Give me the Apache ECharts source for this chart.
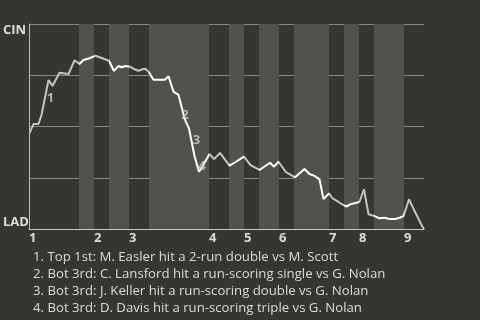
<!DOCTYPE html>
<html><head><meta charset="utf-8">
<script src="https://cdn.jsdelivr.net/npm/echarts@6/dist/echarts.min.js"></script>
<style>html,body{margin:0;padding:0;background:#363531;}#c{width:480px;height:320px;}</style>
</head><body><div id="c"></div>
<script>
// Game progress (approx. plate appearances) and CIN win probability (%)
const progressX = [0,0.9,1.9,2.5,3.9,4.7,6.1,7.9,9.1,10.1,10.9,12.1,13.3,15.2,16,17,17.9,18.5,19.3,20.2,21.1,21.9,22.7,23.3,23.9,24.9,27.2,27.9,28.9,29.9,31.2,32,33.1,34,34.4,36.1,37,38.2,40.1,41.4,43,44.3,46.1,48.2,49,49.9,51.4,52.1,53.2,55.1,56.1,57.1,58.1,58.9,60,60.7,61.5,62.5,63.5,64.2,65.5,66.1,67,67.9,68.9,70.1,71.1,72.1,73.2,74.1,74.9,76,77,77.7,78.5,79];
const cinWinPct = [46.3,51.2,51.2,55.6,72.7,69.8,76.2,75.6,82.3,80.5,82.4,83.3,84.5,82.8,82.1,77.1,79.5,78.9,79.5,79.2,77.9,77.2,77.9,78.2,76.7,72.8,72.8,74.5,67,65.4,53.2,49.1,35.6,28,29.3,36.6,34.1,37.1,30.9,32.8,35.3,31.2,28.8,32.3,30.4,32.8,27.7,26.8,25.2,29.3,26.8,25.9,24.2,14.6,17.4,15,13.8,12.2,10.9,12,12.8,13.3,19.4,7.2,6.5,5.2,5.5,4.9,4.9,5.5,6.3,14.5,9.3,6,2,0];
const inningStarts = [0,13,20,36,43,50,60,66,75];
const inningLabels = ['1','2','3','4','5','6','7','8','9'];
const bottomHalfStarts = [10,16,24,40,46,53,63,69];
const gameEnd = 79;
const teamBottom = 'LAD';
const teamTop = 'CIN';
const annotationIdx = [4,30,32,33];
const annotationNums = ['1','2','3','4'];
const annotationTexts = [
  '1. Top 1st: M. Easler hit a 2-run double vs M. Scott',
  '2. Bot 3rd: C. Lansford hit a run-scoring single vs G. Nolan',
  '3. Bot 3rd: J. Keller hit a run-scoring double vs G. Nolan',
  '4. Bot 3rd: D. Davis hit a run-scoring triple vs G. Nolan'
];

const annOffsets = [[2,18],[0,-5],[2,-16],[3,-5]];
const allStarts = inningStarts.concat([gameEnd]);
const bands = bottomHalfStarts.map((s,i)=>[{xAxis:s},{xAxis:allStarts[i+1]}]);
const pieces = [];
for (let i=0;i<inningStarts.length;i++){
  const top0 = inningStarts[i];
  const bot0 = i<bottomHalfStarts.length ? bottomHalfStarts[i] : gameEnd+1;
  const end = i+1<inningStarts.length ? inningStarts[i+1] : gameEnd+1;
  pieces.push({gte:top0, lt:bot0, color:'#c4c4c2'});
  if (bot0<end) pieces.push({gte:bot0, lt:end, color:'#ffffff'});
}
const lineData = progressX.map((x,i)=>[x,cinWinPct[i]]);
const annData = annotationIdx.map((k,i)=>({
  value:[progressX[k],cinWinPct[k]],
  label:{formatter:annotationNums[i], offset:annOffsets[i]}
}));

const chart = echarts.init(document.getElementById('c'), null, {renderer:'canvas'});
chart.setOption({
  backgroundColor:'#363531',
  animation:false,
  title:{
    text:annotationTexts.join('\n'), left:28, top:244,
    textStyle:{color:'#dcdcda', fontSize:13.2, fontWeight:'normal', fontFamily:'Open Sans', lineHeight:17}
  },
  grid:{left:29, right:56, top:24, bottom:91},
  xAxis:{
    type:'value', min:0, max:gameEnd,
    splitLine:{show:false},
    axisLine:{show:true, lineStyle:{color:'#c8c8c6', width:1}},
    axisTick:{show:false},
    axisLabel:{
      customValues:inningStarts,
      formatter:(v)=>{const k=inningStarts.indexOf(v);return k>=0?inningLabels[k]:'';},
      align:'left', margin:3, color:'#dcdcda', fontWeight:'bold', fontSize:13, fontFamily:'Open Sans'
    }
  },
  yAxis:{
    type:'value', min:0, max:100, interval:25,
    axisLine:{show:true, lineStyle:{color:'#bdbdbb', width:1}}, axisTick:{show:false},
    splitLine:{show:true, lineStyle:{color:'#8a8986', width:1}},
    axisLabel:{
      customValues:[0,100],
      formatter:(v)=> v===0?teamBottom:(v===100?teamTop:''),
      align:'left', margin:26, color:'#dcdcda', fontWeight:'bold', fontSize:13, fontFamily:'Open Sans',
      verticalAlignMinLabel:'bottom', verticalAlignMaxLabel:'top'
    }
  },
  visualMap:{type:'piecewise', show:false, dimension:0, seriesIndex:1, pieces:pieces},
  series:[
    {type:'line', z:-1, data:[], silent:true,
     markArea:{silent:true, itemStyle:{color:'#52514e'}, data:bands}},
    {type:'line', data:lineData, symbol:'none', lineStyle:{width:2}, z:3},
    {type:'scatter', data:annData, symbolSize:0, z:4,
     label:{show:true, position:'inside', color:'#cfcfcd', fontWeight:'bold', fontSize:13, fontFamily:'Open Sans'}}
  ]
});
</script></body></html>
